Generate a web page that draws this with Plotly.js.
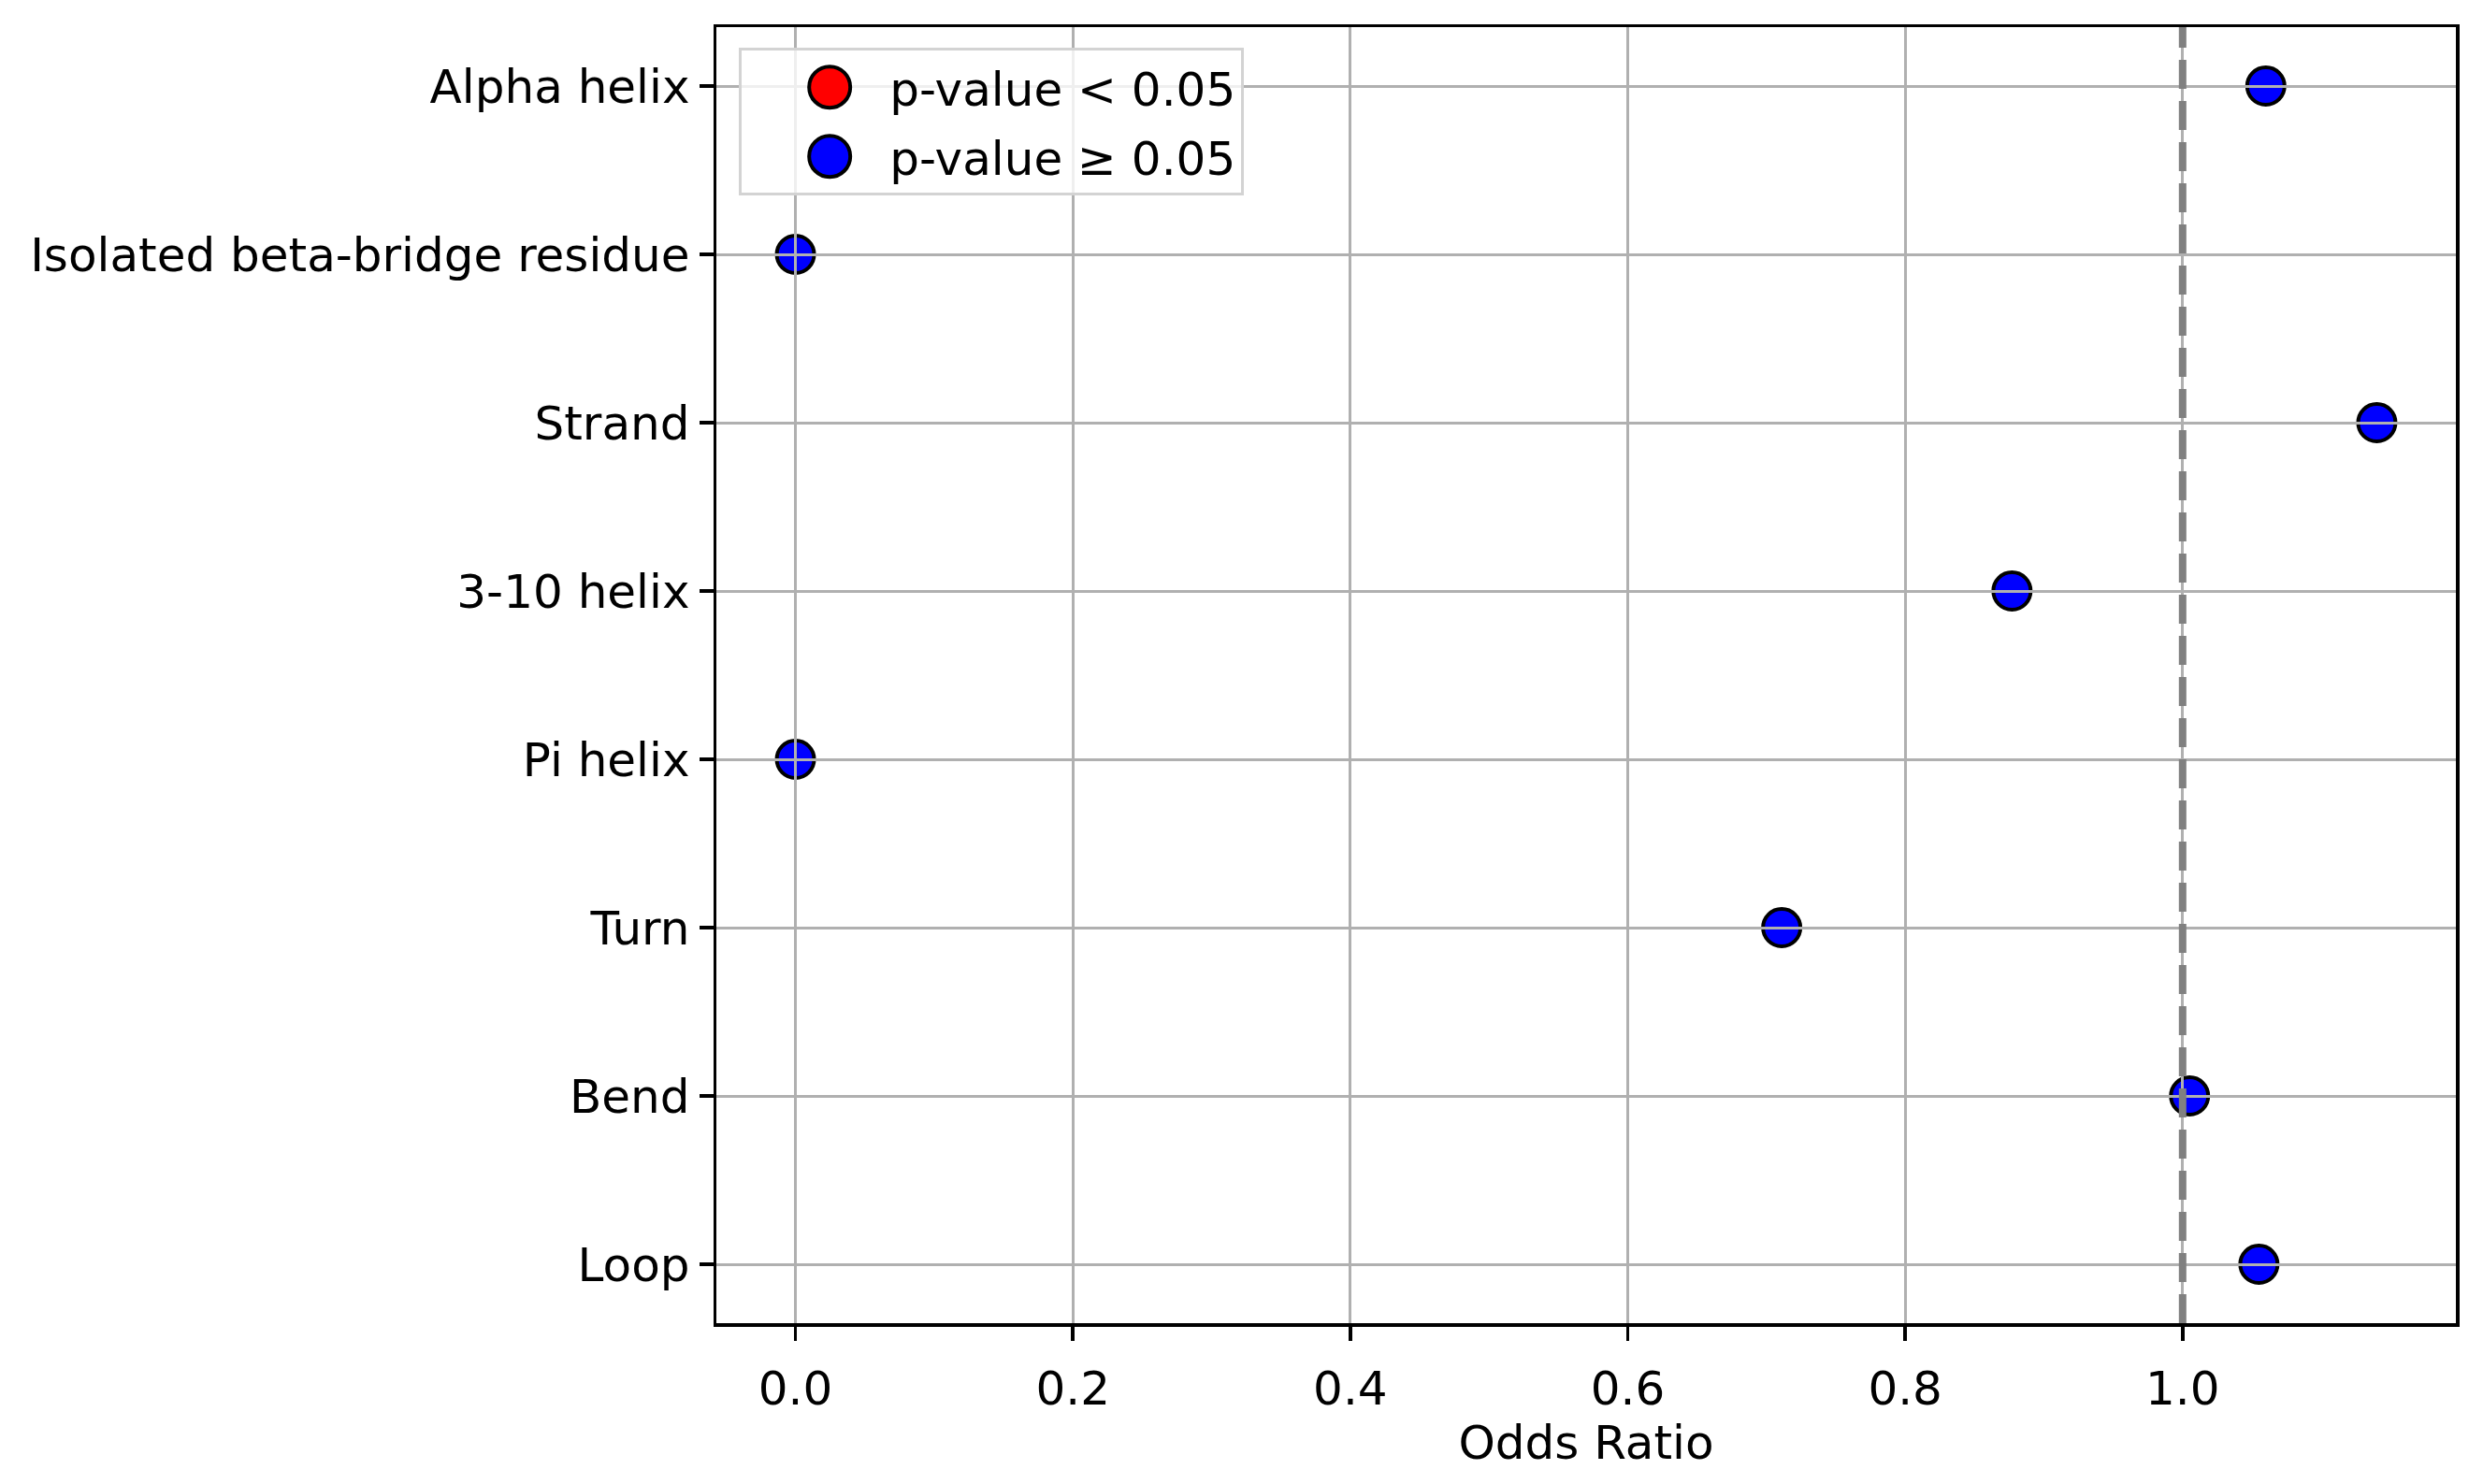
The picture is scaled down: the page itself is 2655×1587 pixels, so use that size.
<!DOCTYPE html>
<html>
<head>
<meta charset="utf-8">
<script src="https://cdn.plot.ly/plotly-3.0.1.min.js"></script>
<style>
  body { margin: 0; background: #fff; }
  #chart { width: 2655px; height: 1587px; }
</style>
</head>
<body>
<div id="chart"></div>
<script>
// secondary structure categories, top to bottom
const categories = [
  'Alpha helix',
  'Isolated beta-bridge residue',
  'Strand',
  '3-10 helix',
  'Pi helix',
  'Turn',
  'Bend',
  'Loop'
];
// odds ratio
const oddsRatio = [1.06, 0.0, 1.14, 0.877, 0.0, 0.711, 1.005, 1.055];
// true when p-value < 0.05 (none in this chart)
const significant = [false, false, false, false, false, false, false, false];

const xTicks = [0.0, 0.2, 0.4, 0.6, 0.8, 1.0];
const refLine = 1.0;

const FONT = 'DejaVu Sans, sans-serif';

function pick(flag) {
  const xs = [], ys = [];
  categories.forEach((c, i) => {
    if (significant[i] === flag) { xs.push(oddsRatio[i]); ys.push(c); }
  });
  // keep an (invisible) point so the legend entry still shows
  if (xs.length === 0) { xs.push(null); ys.push(null); }
  return { xs, ys };
}

const sig = pick(true);
const nonSig = pick(false);

const data = [
  {
    x: sig.xs, y: sig.ys,
    type: 'scatter', mode: 'markers',
    name: 'p-value &lt; 0.05', legendgroup: 'sig',
    marker: { color: 'red', size: 40, line: { color: 'black', width: 4 } },
    cliponaxis: false
  },
  {
    x: nonSig.xs, y: nonSig.ys,
    type: 'scatter', mode: 'markers',
    name: 'p-value ≥ 0.05', legendgroup: 'nonsig',
    marker: { color: 'blue', size: 40, line: { color: 'black', width: 4 } },
    cliponaxis: false
  }
];

const layout = {
  width: 2655,
  height: 1587,
  paper_bgcolor: '#fff',
  plot_bgcolor: '#fff',
  margin: { l: 766, r: 29, t: 29, b: 172, pad: 0 },
  font: { family: FONT, size: 50, color: 'black' },
  showlegend: true,
  legend: {
    x: 0.013, y: 0.984, xanchor: 'left', yanchor: 'top',
    bgcolor: 'rgba(255,255,255,0.8)',
    bordercolor: '#d3d3d3', borderwidth: 3,
    font: { family: FONT, size: 50, color: 'black' },
    traceorder: 'grouped', tracegroupgap: 6,
    indentation: 30,
    itemwidth: 118
  },
  xaxis: {
    range: [-0.057, 1.197],
    tickvals: xTicks,
    ticktext: xTicks.map(v => v.toFixed(1)),
    showgrid: true, gridcolor: '#b0b0b0', gridwidth: 3,
    zeroline: false,
    showline: true, linecolor: 'black', linewidth: 3.5, mirror: true,
    ticks: 'outside', ticklen: 15, tickwidth: 3.5, tickcolor: 'black',
    ticklabelstandoff: 8,
    title: { text: 'Odds Ratio', font: { family: FONT, size: 50, color: 'black' }, standoff: 0 }
  },
  yaxis: {
    type: 'category',
    categoryorder: 'array',
    categoryarray: categories,
    range: [7.35, -0.35],
    showgrid: true, gridcolor: '#b0b0b0', gridwidth: 3,
    zeroline: false,
    showline: true, linecolor: 'black', linewidth: 3.5, mirror: true,
    ticks: 'outside', ticklen: 15, tickwidth: 3.5, tickcolor: 'black',
    ticklabelstandoff: 0
  },
  shapes: [
    {
      type: 'line', xref: 'x', yref: 'paper',
      x0: refLine, x1: refLine, y0: 0, y1: 1,
      line: { color: 'gray', width: 8, dash: '31px,13px' },
      layer: 'above'
    }
  ]
};

Plotly.newPlot('chart', data, layout, { staticPlot: true }).then(gd => {
  // matplotlib draws the grid over the markers: move the grid layer above the traces
  const sub = gd.querySelector('.cartesianlayer .subplot.xy');
  if (sub) {
    const grid = sub.querySelector(':scope > .gridlayer');
    const plot = sub.querySelector(':scope > .overplot') || sub.querySelector(':scope > .plot');
    if (grid && plot) plot.parentNode.insertBefore(grid, plot.nextSibling);
  }
  // matplotlib legend markers are as big as the plotted ones; plotly caps them at 16px
  gd.querySelectorAll('.legend .legendpoints path.scatterpts').forEach(p => {
    const t = p.getAttribute('transform') || '';
    p.setAttribute('transform', t + ' scale(2.75)');
    p.style.strokeWidth = '1.45px';
  });
});
</script>
</body>
</html>
